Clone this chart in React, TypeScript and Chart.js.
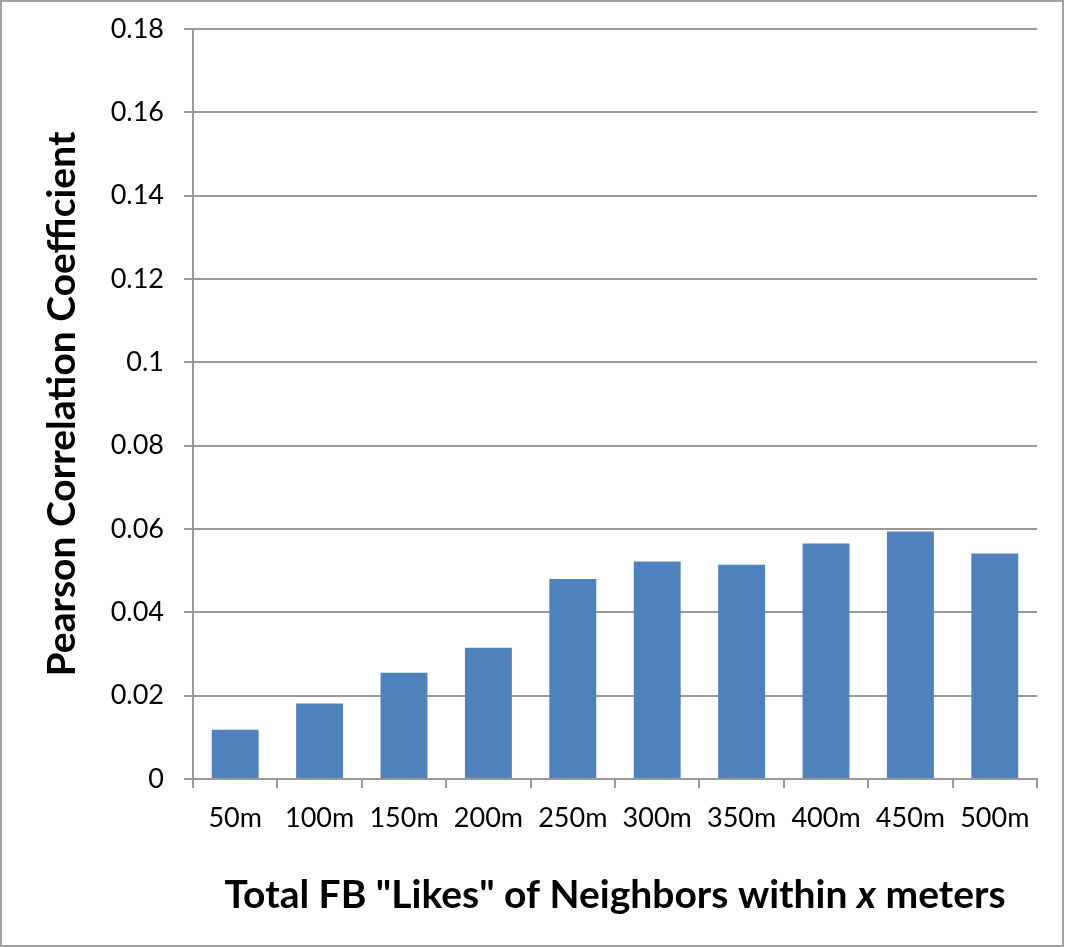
import React, { useEffect, useRef } from "react";
import { Chart, registerables } from "chart.js";

Chart.register(...registerables);

const categories = ["50m", "100m", "150m", "200m", "250m", "300m", "350m", "400m", "450m", "500m"];
const correlation = [0.0118, 0.0181, 0.0255, 0.0315, 0.048, 0.0522, 0.0514, 0.0565, 0.0594, 0.0541];
const yMax = 0.18;
const yStep = 0.02;
const yTitle = "Pearson Correlation Coefficient";
const xTitleParts = [
  { text: 'Total FB "Likes" of Neighbors within ', italic: false },
  { text: "x", italic: true },
  { text: " meters", italic: false },
];

const FONT = "Lato, 'Open Sans', sans-serif";
const GRID = "#999999";

export default function App() {
  const ref = useRef<HTMLCanvasElement | null>(null);

  useEffect(() => {
    if (!ref.current) return;
    const titlesPlugin = {
      id: "titles",
      afterDraw(chart: any) {
        const ctx = chart.ctx;
        const ca = chart.chartArea;
        ctx.save();
        // border
        ctx.strokeStyle = "#a0a0a0";
        ctx.lineWidth = 2;
        ctx.strokeRect(1, 1, 1062, 945);
        // x title
        ctx.fillStyle = "#000";
        ctx.textBaseline = "middle";
        ctx.textAlign = "left";
        const size = 39;
        let total = 0;
        const widths = xTitleParts.map((p) => {
          ctx.font = `${p.italic ? "italic " : ""}bold ${size}px ${FONT}`;
          const w = ctx.measureText(p.text).width;
          total += w;
          return w;
        });
        let x = (ca.left + ca.right) / 2 - total / 2;
        xTitleParts.forEach((p, i) => {
          ctx.font = `${p.italic ? "italic " : ""}bold ${size}px ${FONT}`;
          ctx.fillText(p.text, x, 895);
          x += widths[i];
        });
        // y title
        ctx.translate(62, (ca.top + ca.bottom) / 2);
        ctx.rotate(-Math.PI / 2);
        ctx.textAlign = "center";
        ctx.font = `bold ${size}px ${FONT}`;
        ctx.fillText(yTitle, 0, 0);
        ctx.restore();
      },
    };

    const chart = new Chart(ref.current, {
      type: "bar",
      data: {
        labels: categories,
        datasets: [
          {
            data: correlation,
            backgroundColor: "#4F81BD",
            borderWidth: 0,
            categoryPercentage: 1,
            barPercentage: 0.556,
          },
        ],
      },
      options: {
        responsive: false,
        animation: false,
        devicePixelRatio: 1,
        layout: { padding: { top: 29, right: 28, left: 0, bottom: 0 } },
        plugins: {
          legend: { display: false },
          tooltip: { enabled: false },
          title: { display: false },
        },
        scales: {
          x: {
            grid: {
              offset: true,
              drawOnChartArea: false,
              drawTicks: true,
              tickLength: 9,
              color: GRID,
              lineWidth: 2,
            },
            border: { color: GRID, width: 2 },
            ticks: {
              color: "#000",
              font: { family: FONT, size: 27 },
              padding: 14,
              maxRotation: 0,
              autoSkip: false,
            },
            afterFit: (scale: any) => {
              scale.height = 168;
              scale.paddingLeft = 0;
              scale.paddingRight = 0;
            },
          },
          y: {
            min: 0,
            max: yMax,
            grid: {
              color: GRID,
              lineWidth: 2,
              tickLength: 9,
            },
            border: { color: GRID, width: 2 },
            ticks: {
              stepSize: yStep,
              color: "#000",
              font: { family: FONT, size: 27 },
              padding: 20,
              callback: (v: any) => String(Number(Number(v).toFixed(2))),
            },
            afterFit: (scale: any) => {
              scale.width = 193;
              scale.paddingTop = 0;
              scale.paddingBottom = 0;
            },
          },
        },
      },
      plugins: [titlesPlugin],
    });
    return () => chart.destroy();
  }, []);

  return (
    <div style={{ position: "absolute", left: 0, top: 0, width: 1065, height: 947, background: "#fff" }}>
      <canvas ref={ref} width={1065} height={947} style={{ width: 1065, height: 947, display: "block" }} />
    </div>
  );
}
